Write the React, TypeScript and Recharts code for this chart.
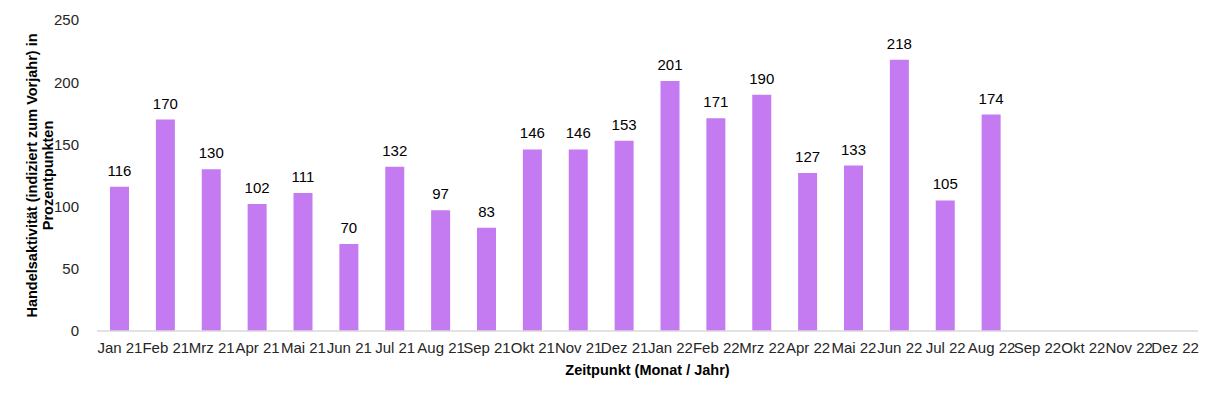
import { BarChart, Bar, XAxis, YAxis, LabelList, Label } from "recharts";

const MONTHS = [
  "Jan 21", "Feb 21", "Mrz 21", "Apr 21", "Mai 21", "Jun 21",
  "Jul 21", "Aug 21", "Sep 21", "Okt 21", "Nov 21", "Dez 21",
  "Jan 22", "Feb 22", "Mrz 22", "Apr 22", "Mai 22", "Jun 22",
  "Jul 22", "Aug 22", "Sep 22", "Okt 22", "Nov 22", "Dez 22",
];

const ACTIVITY: (number | null)[] = [
  116, 170, 130, 102, 111, 70, 132, 97, 83, 146, 146, 153,
  201, 171, 190, 127, 133, 218, 105, 174, null, null, null, null,
];

const Y_TICKS = [0, 50, 100, 150, 200, 250];

const BAR_COLOR = "#c47bf2";
const FONT = "'Liberation Sans', Arial, sans-serif";

const data = MONTHS.map((month, i) => ({ month, value: ACTIVITY[i] }));

function YTitle({ viewBox }: any) {
  const cy = viewBox.y + viewBox.height / 2;
  return (
    <text
      transform={`translate(40, ${cy}) rotate(-90)`}
      textAnchor="middle"
      fontFamily={FONT}
      fontSize={14.5}
      fontWeight="bold"
      fill="#000"
    >
      <tspan x={0} dy={-3}>Handelsaktivität (indiziert zum Vorjahr) in</tspan>
      <tspan x={0} dy={16}>Prozentpunkten</tspan>
    </text>
  );
}

export default function App() {
  return (
    <div style={{ position: "absolute", left: 0, top: 0, fontFamily: FONT }}>
      <BarChart
        width={1218}
        height={400}
        data={data}
        margin={{ top: 20, right: 20, left: 0, bottom: 0 }}
      >
        <XAxis
          dataKey="month"
          interval={0}
          height={69}
          tickLine={false}
          axisLine={{ stroke: "#d9d9d9", strokeWidth: 1.5 }}
          tick={{ fontSize: 15, fill: "#262626", fontFamily: FONT }}
          tickMargin={5}
        >
          <Label
            value="Zeitpunkt (Monat / Jahr)"
            position="insideBottom"
            offset={25}
            style={{ fontSize: 14.5, fontWeight: "bold", fill: "#000", fontFamily: FONT }}
          />
        </XAxis>
        <YAxis
          width={97}
          domain={[0, 250]}
          ticks={Y_TICKS}
          axisLine={false}
          tickLine={false}
          tickMargin={12}
          tick={{ fontSize: 15, fill: "#262626", fontFamily: FONT }}
        >
          <Label content={<YTitle />} />
        </YAxis>
        <Bar
          dataKey="value"
          fill={BAR_COLOR}
          barSize={19}
          isAnimationActive={false}
        >
          <LabelList
            dataKey="value"
            position="top"
            offset={11}
            style={{ fontSize: 15, fill: "#000", fontFamily: FONT }}
          />
        </Bar>
      </BarChart>
    </div>
  );
}
